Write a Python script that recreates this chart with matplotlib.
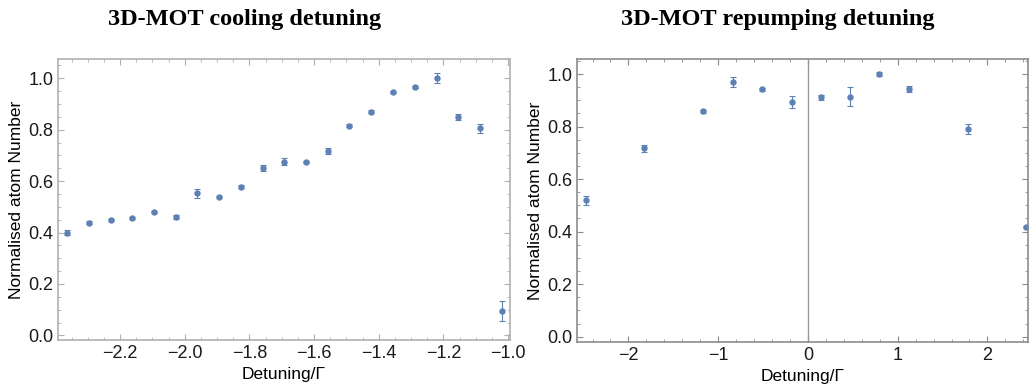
import matplotlib
matplotlib.use("Agg")
import matplotlib.pyplot as plt
from matplotlib.ticker import MultipleLocator

# cooling detuning scan
cool_x = [-2.364, -2.297, -2.229, -2.162, -2.095, -2.028, -1.961, -1.894, -1.827, -1.759, -1.692,
          -1.625, -1.557, -1.491, -1.424, -1.356, -1.288, -1.221, -1.154, -1.086, -1.019]
cool_y = [0.400, 0.439, 0.448, 0.457, 0.481, 0.460, 0.552, 0.538, 0.578, 0.651, 0.676,
          0.676, 0.717, 0.815, 0.870, 0.946, 0.966, 1.000, 0.850, 0.806, 0.093]
cool_err = [0.008, 0.004, 0.005, 0.005, 0.004, 0.008, 0.017, 0.005, 0.005, 0.013, 0.015,
            0.004, 0.010, 0.006, 0.006, 0.004, 0.005, 0.019, 0.012, 0.017, 0.039]

# repumping detuning scan
rep_x = [-2.473, -1.822, -1.167, -0.840, -0.511, -0.181, 0.144, 0.471, 0.793, 1.122, 1.778, 2.426]
rep_y = [0.519, 0.717, 0.858, 0.971, 0.942, 0.893, 0.912, 0.914, 1.000, 0.943, 0.790, 0.417]
rep_err = [0.018, 0.012, 0.005, 0.019, 0.006, 0.024, 0.010, 0.036, 0.007, 0.010, 0.020, 0.004]

titles = ["3D-MOT cooling detuning", "3D-MOT repumping detuning"]
xlab = "Detuning/\u0393"
ylab = "Normalised atom Number"

plt.rcParams['font.family'] = ['Liberation Sans', 'DejaVu Sans']
pt_col = "#5e81b5"

fig = plt.figure(figsize=(10.29, 3.89), dpi=100)
ax1 = fig.add_axes([58 / 1029, 1 - 340 / 389, 452 / 1029, 281 / 389])
ax2 = fig.add_axes([577 / 1029, 1 - 341.7 / 389, 451 / 1029, 282.4 / 389])


def style(ax, frame_col, xmaj, xmin):
    for s in ax.spines.values():
        s.set_color(frame_col)
        s.set_linewidth(1.2)
    ax.xaxis.set_major_locator(MultipleLocator(xmaj))
    ax.xaxis.set_minor_locator(MultipleLocator(xmin))
    ax.yaxis.set_major_locator(MultipleLocator(0.2))
    ax.yaxis.set_minor_locator(MultipleLocator(0.05))
    ax.tick_params(which='both', direction='in', top=True, right=True, color=frame_col,
                   labelsize=13, labelcolor='#1a1a1a')
    ax.tick_params(which='major', length=4.5, width=0.8, pad=3.5)
    ax.tick_params(which='minor', length=2.5, width=0.6)
    ax.set_xlabel(xlab, fontsize=12.5, labelpad=4)
    ax.set_ylabel(ylab, fontsize=12.5, labelpad=3)


ax1.errorbar(cool_x, cool_y, yerr=cool_err, fmt='o', ms=3.6, color=pt_col,
             ecolor=pt_col, elinewidth=0.8, capsize=2.3, capthick=0.8)
ax1.set_xlim(-2.392, -0.994)
ax1.set_ylim(-0.018, 1.075)
style(ax1, "#b0b0b0", 0.2, 0.05)
ax1.xaxis.set_major_formatter(plt.FuncFormatter(lambda v, p: ("%.1f" % v).replace("-", "\u2212")))

ax2.axvline(0, color="#999999", lw=1)
ax2.errorbar(rep_x, rep_y, yerr=rep_err, fmt='o', ms=3.6, color=pt_col,
             ecolor=pt_col, elinewidth=0.8, capsize=2.3, capthick=0.8)
ax2.set_xlim(-2.573, 2.452)
ax2.set_ylim(-0.019, 1.056)
style(ax2, "#8c8c8c", 1, 0.2)

fig.text(245 / 1029, 1 - 20 / 389, titles[0], ha='center', va='center',
         family='Liberation Serif', fontweight='bold', fontsize=17.5)
fig.text(778 / 1029, 1 - 20 / 389, titles[1], ha='center', va='center',
         family='Liberation Serif', fontweight='bold', fontsize=17.5)

fig.savefig("out.png", dpi=100)
